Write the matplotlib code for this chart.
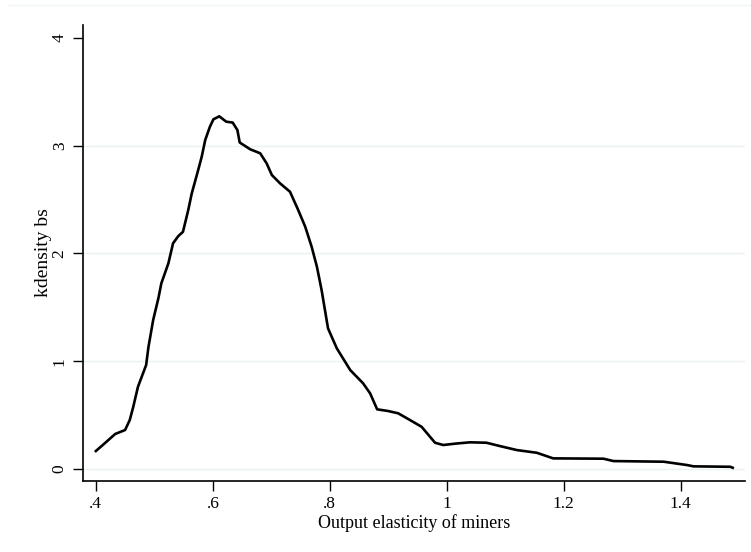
import matplotlib
matplotlib.use("Agg")
import matplotlib.pyplot as plt
from matplotlib.lines import Line2D

# Kernel density of bootstrap output elasticity
elasticity = [
    0.400, 0.415, 0.433, 0.450, 0.458, 0.464, 0.472, 0.486, 0.490, 0.498,
    0.507, 0.512, 0.524, 0.532, 0.541, 0.549, 0.558, 0.564, 0.575, 0.581,
    0.587, 0.595, 0.601, 0.611, 0.623, 0.634, 0.642, 0.646, 0.664, 0.681,
    0.692, 0.701, 0.715, 0.732, 0.746, 0.758, 0.769, 0.778, 0.786, 0.797,
    0.812, 0.835, 0.857, 0.869, 0.881, 0.900, 0.917, 0.937, 0.957, 0.969,
    0.980, 0.994, 1.017, 1.040, 1.068, 1.091, 1.120, 1.154, 1.182, 1.268,
    1.285, 1.371, 1.411, 1.422, 1.485, 1.489,
]
density = [
    0.167, 0.238, 0.325, 0.362, 0.455, 0.578, 0.763, 0.965, 1.134, 1.382,
    1.586, 1.723, 1.908, 2.094, 2.161, 2.201, 2.403, 2.557, 2.774, 2.897,
    3.052, 3.175, 3.244, 3.272, 3.222, 3.214, 3.145, 3.029, 2.966, 2.929,
    2.836, 2.727, 2.650, 2.572, 2.403, 2.248, 2.062, 1.877, 1.661, 1.305,
    1.120, 0.918, 0.795, 0.702, 0.554, 0.538, 0.517, 0.455, 0.392, 0.315,
    0.244, 0.223, 0.237, 0.248, 0.244, 0.213, 0.176, 0.151, 0.099, 0.096,
    0.074, 0.068, 0.037, 0.025, 0.021, 0.012,
]

x_ticks = [0.4, 0.6, 0.8, 1.0, 1.2, 1.4]
x_tick_labels = [".4", ".6", ".8", "1", "1.2", "1.4"]
y_ticks = [0, 1, 2, 3, 4]
y_grid = [0, 1, 2, 3]

plt.rcParams["font.family"] = ["Liberation Serif", "DejaVu Serif"]

fig = plt.figure(figsize=(7.51, 5.52), dpi=100)
ax = fig.add_axes([0.1105, 0.1286, 0.8815, 0.8261])

for g in y_grid:
    ax.axhline(g, color="#eaf2f3", linewidth=1.0, zorder=0)

ax.plot(elasticity, density, color="black", linewidth=1.9,
        solid_joinstyle="round", zorder=3)

ax.set_xlim(0.378, 1.510)
ax.set_ylim(-0.111, 4.119)

ax.set_xticks(x_ticks)
ax.set_xticklabels(x_tick_labels)
ax.set_yticks(y_ticks)
ax.set_yticklabels([str(t) for t in y_ticks], rotation=90, va="center")

ax.tick_params(axis="both", direction="out", length=7, width=1.0,
               labelsize=12.5, colors="black", pad=4)
ax.tick_params(axis="x", pad=4)

for side in ("top", "right"):
    ax.spines[side].set_visible(False)
for side in ("left", "bottom"):
    ax.spines[side].set_linewidth(1.2)

ax.set_xlabel("Output elasticity of miners", fontsize=13, labelpad=1)
ax.set_ylabel("kdensity bs", fontsize=14, labelpad=0)

# faint outer region border at the top
fig.add_artist(Line2D([8 / 751, 1.0], [1 - 5 / 552, 1 - 5 / 552],
                      transform=fig.transFigure, color="#eef3f5", linewidth=1.0))

fig.savefig("out.png", dpi=100)
